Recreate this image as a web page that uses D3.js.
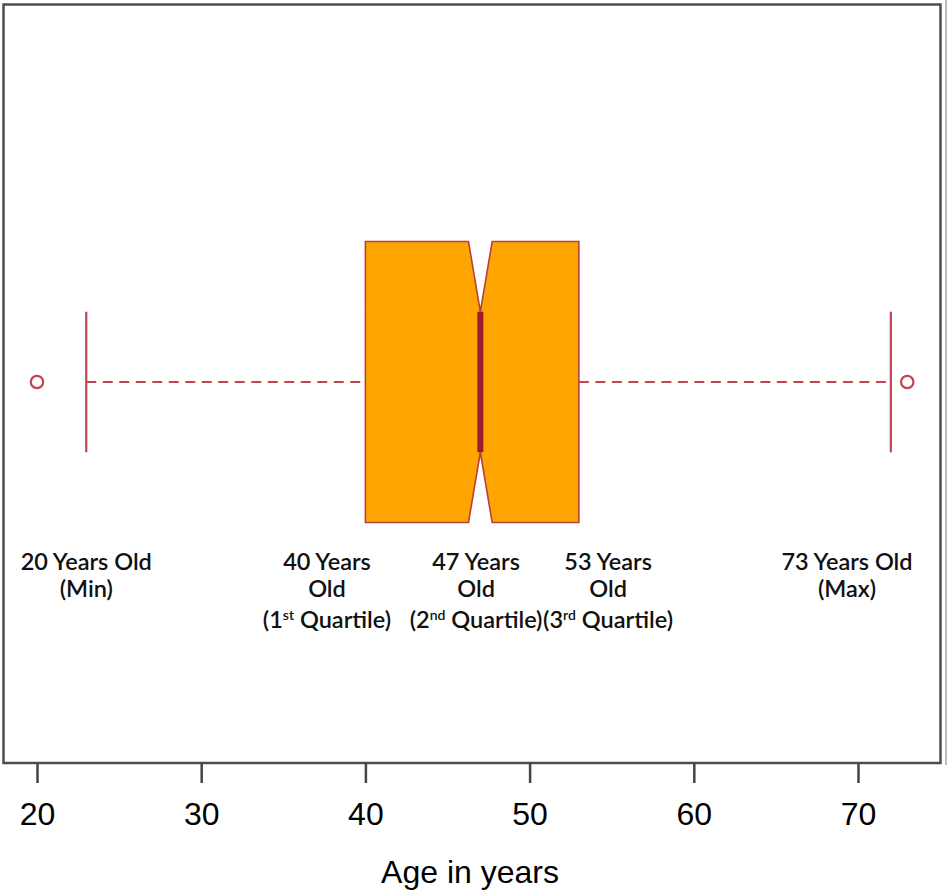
<!DOCTYPE html>
<html>
<head>
<meta charset="utf-8">
<script src="https://cdn.jsdelivr.net/npm/d3@7"></script>
<style>
  body { margin: 0; background: #fff; }
  svg { display: block; }
  .tick text { font-family: "Liberation Sans", Arial, sans-serif; font-size: 32px; fill: #000; }
  .tick line { stroke: #444; stroke-width: 2.5; }
  .lbl { font-family: Lato, "Open Sans", sans-serif; font-size: 23.5px; font-weight: 600; fill: #111; text-anchor: middle; }
</style>
</head>
<body>
<svg width="948" height="892"></svg>
<script>
  // five number summary (age in years)
  var stats = { min: 23, q1: 40, median: 47, q3: 53, max: 72 };
  var notch = [46.28, 47.72];
  var outliers = [20, 73];
  var tickValues = [20, 30, 40, 50, 60, 70];

  // annotation text, anchored at an age value
  var labelAt = [23, 37.66, 46.74, 54.78, 69.33];
  var labelLines = [
    [['20 Years Old'], ['(Min)']],
    [['40 Years'], ['Old'], ['(1', 'st', ' Quartile)']],
    [['47 Years'], ['Old'], ['(2', 'nd', ' Quartile)']],
    [['53 Years'], ['Old'], ['(3', 'rd', ' Quartile)']],
    [['73 Years Old'], ['(Max)']]
  ];

  var svg = d3.select('svg');
  var x = d3.scaleLinear().domain([20, 70]).range([37, 858]);

  var cy = 382, half = 140.5;

  // plot frame
  svg.append('line')
    .attr('x1', 946).attr('x2', 946).attr('y1', 0).attr('y2', 765)
    .attr('stroke', '#bbb').attr('stroke-width', 2);
  svg.append('rect')
    .attr('x', 3.5).attr('y', 4.5).attr('width', 937).attr('height', 758.5)
    .attr('fill', 'none').attr('stroke', '#4d4d4d').attr('stroke-width', 2.5);

  var g = svg.append('g');

  // whiskers
  var whiskerColor = '#c2464f';
  [[stats.min, stats.q1], [stats.q3, stats.max]].forEach(function (w) {
    g.append('line')
      .attr('x1', x(w[0])).attr('x2', x(w[1])).attr('y1', cy).attr('y2', cy)
      .attr('stroke', whiskerColor).attr('stroke-width', 2.2)
      .attr('stroke-dasharray', '10,6.5');
  });
  [stats.min, stats.max].forEach(function (v) {
    g.append('line')
      .attr('x1', x(v)).attr('x2', x(v)).attr('y1', cy - half / 2).attr('y2', cy + half / 2)
      .attr('stroke', whiskerColor).attr('stroke-width', 2.2);
  });

  // notched box
  var pts = [
    [x(stats.q1), cy - half], [x(notch[0]), cy - half], [x(stats.median), cy - half / 2],
    [x(notch[1]), cy - half], [x(stats.q3), cy - half], [x(stats.q3), cy + half],
    [x(notch[1]), cy + half], [x(stats.median), cy + half / 2], [x(notch[0]), cy + half],
    [x(stats.q1), cy + half]
  ];
  g.append('path')
    .attr('d', d3.line()(pts) + 'Z')
    .attr('fill', '#ffa500').attr('stroke', '#b8403e').attr('stroke-width', 1.6)
    .attr('stroke-linejoin', 'miter');

  g.append('line')
    .attr('x1', x(stats.median)).attr('x2', x(stats.median))
    .attr('y1', cy - half / 2).attr('y2', cy + half / 2)
    .attr('stroke', '#9e1a30').attr('stroke-width', 6);

  // outliers
  g.selectAll('circle.out').data(outliers).enter().append('circle')
    .attr('class', 'out')
    .attr('cx', function (d) { return x(d); }).attr('cy', cy).attr('r', 6.2)
    .attr('fill', '#fff').attr('stroke', whiskerColor).attr('stroke-width', 2.2);

  // axis
  var axis = svg.append('g')
    .attr('transform', 'translate(0,763)')
    .call(d3.axisBottom(x).tickValues(tickValues).tickSize(20).tickPadding(19));
  axis.select('.domain').remove();

  svg.append('text')
    .attr('x', 470).attr('y', 883)
    .attr('text-anchor', 'middle')
    .style('font-family', '"Liberation Sans", Arial, sans-serif')
    .style('font-size', '32px')
    .text('Age in years');

  // annotations
  labelLines.forEach(function (lines, i) {
    var t = svg.append('text').attr('class', 'lbl');
    lines.forEach(function (parts, j) {
      var line = t.append('tspan')
        .attr('x', x(labelAt[i]))
        .attr('y', 570 + j * 27 + (j === 2 ? 4 : 0));
      parts.forEach(function (p, k) {
        var s = line.append('tspan').text(p);
        if (k === 1) s.attr('font-size', '14px').attr('dy', '-8');
        if (k === 2) s.attr('dy', '8');
      });
    });
  });
</script>
</body>
</html>
